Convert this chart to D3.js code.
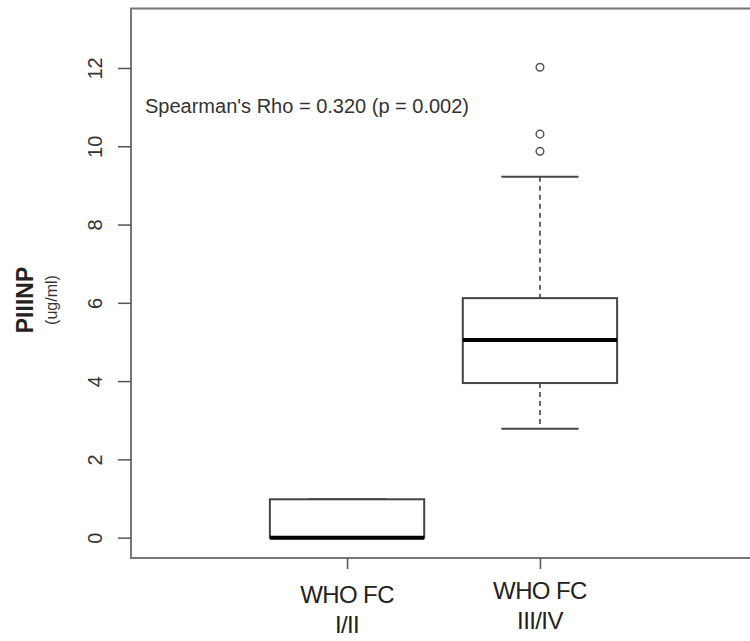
<!DOCTYPE html>
<html>
<head>
<meta charset="utf-8">
<script src="https://cdn.jsdelivr.net/npm/d3@7"></script>
<style>
  html, body { margin: 0; padding: 0; background: #fff; }
  svg { display: block; }
  text { font-family: "Liberation Sans", Arial, Helvetica, sans-serif; }
</style>
</head>
<body>
<svg id="chart" width="750" height="641"></svg>
<script>
// Group labels (two lines each)
const groups = [["WHO FC", "I/II"], ["WHO FC", "III/IV"]];
// Five-number summaries per group: lower whisker, Q1, median, Q3, upper whisker
const lowerWhisker = [0, 2.78];
const q1 = [0, 3.95];
const median = [0, 5.05];
const q3 = [0.98, 6.12];
const upperWhisker = [0.98, 9.22];
// Points beyond the whiskers
const outliers = [[], [9.87, 10.31, 12.02]];
const yTicks = [0, 2, 4, 6, 8, 10, 12];
const annotation = "Spearman's Rho = 0.320 (p = 0.002)";

const svg = d3.select("#chart");
const plotLeft = 131, plotRight = 756, plotTop = 8.5, plotBottom = 558;

const x = d3.scaleLinear().domain([-0.12, 3.12]).range([plotLeft, plotRight]);
const y = d3.scaleLinear().domain([-0.52, 13.52]).range([plotBottom, plotTop]);

const boxHalf = 0.4, capHalf = 0.2;
const data = groups.map((g, i) => ({
  pos: i + 1, label: g,
  lo: lowerWhisker[i], q1: q1[i], med: median[i], q3: q3[i], hi: upperWhisker[i],
  out: outliers[i]
}));

// Plot frame
svg.append("rect")
  .attr("x", plotLeft).attr("y", plotTop)
  .attr("width", plotRight - plotLeft).attr("height", plotBottom - plotTop)
  .attr("fill", "none").attr("stroke", "#777").attr("stroke-width", 2);

// Y axis
const yAxis = svg.append("g")
  .attr("transform", `translate(${plotLeft},0)`)
  .call(d3.axisLeft(y).tickValues(yTicks).tickSize(13).tickFormat(d3.format("d")));
yAxis.select(".domain").remove();
yAxis.selectAll(".tick line").attr("stroke", "#555").attr("stroke-width", 1.5);
yAxis.selectAll(".tick text")
  .attr("transform", "rotate(-90)")
  .attr("x", 0).attr("y", -36).attr("dy", null)
  .attr("text-anchor", "middle")
  .attr("dominant-baseline", "central")
  .attr("fill", "#333")
  .style("font-size", "20px");

// X axis
const xAxis = svg.append("g")
  .attr("transform", `translate(0,${plotBottom})`)
  .call(d3.axisBottom(x).tickValues(data.map(d => d.pos)).tickSize(11).tickFormat(""));
xAxis.select(".domain").remove();
xAxis.selectAll(".tick line").attr("stroke", "#555").attr("stroke-width", 1.5);

// Category labels
const lab = svg.append("g").selectAll("text").data(data).join("text")
  .attr("x", d => x(d.pos))
  .attr("y", (d, i) => i === 0 ? 603 : 599)
  .attr("text-anchor", "middle")
  .attr("fill", "#222")
  .style("font-size", "24px")
  .style("letter-spacing", "-0.6px");
lab.selectAll("tspan").data(d => d.label).join("tspan")
  .attr("x", function () { return d3.select(this.parentNode).attr("x"); })
  .attr("dy", (d, i) => i === 0 ? 0 : 30)
  .text(d => d);

// Y axis title
svg.append("text")
  .attr("transform", `translate(33,300) rotate(-90)`)
  .attr("text-anchor", "middle")
  .attr("fill", "#222")
  .style("font-size", "23px")
  .style("font-weight", "bold")
  .text("PIIINP");
svg.append("text")
  .attr("transform", `translate(57,300) rotate(-90)`)
  .attr("text-anchor", "middle")
  .attr("fill", "#333")
  .style("font-size", "16px")
  .text("(ug/ml)");

// Boxplots
const bp = svg.append("g").selectAll("g").data(data).join("g");

// Dashed whiskers
bp.append("line")
  .attr("x1", d => x(d.pos)).attr("x2", d => x(d.pos))
  .attr("y1", d => y(d.hi)).attr("y2", d => y(d.q3))
  .attr("stroke", "#444").attr("stroke-width", 1.6).attr("stroke-dasharray", "5,4");
bp.append("line")
  .attr("x1", d => x(d.pos)).attr("x2", d => x(d.pos))
  .attr("y1", d => y(d.q1)).attr("y2", d => y(d.lo))
  .attr("stroke", "#444").attr("stroke-width", 1.6).attr("stroke-dasharray", "5,4");

// Whisker caps
["lo", "hi"].forEach(k => {
  bp.append("line")
    .attr("x1", d => x(d.pos - capHalf)).attr("x2", d => x(d.pos + capHalf))
    .attr("y1", d => y(d[k])).attr("y2", d => y(d[k]))
    .attr("stroke", "#444").attr("stroke-width", 2);
});

// Boxes
bp.append("rect")
  .attr("x", d => x(d.pos - boxHalf))
  .attr("width", d => x(d.pos + boxHalf) - x(d.pos - boxHalf))
  .attr("y", d => y(d.q3))
  .attr("height", d => y(d.q1) - y(d.q3))
  .attr("fill", "#fff").attr("stroke", "#444").attr("stroke-width", 2);

// Medians
bp.append("line")
  .attr("x1", d => x(d.pos - boxHalf)).attr("x2", d => x(d.pos + boxHalf))
  .attr("y1", d => y(d.med)).attr("y2", d => y(d.med))
  .attr("stroke", "#000").attr("stroke-width", 4);

// Outliers
bp.selectAll("circle").data(d => d.out.map(v => ({ pos: d.pos, v }))).join("circle")
  .attr("cx", d => x(d.pos)).attr("cy", d => y(d.v)).attr("r", 3.8)
  .attr("fill", "none").attr("stroke", "#555").attr("stroke-width", 1.5);

// Correlation annotation
svg.append("text")
  .attr("x", 145).attr("y", 113)
  .attr("fill", "#333")
  .style("font-size", "20px")
  .text(annotation);
</script>
</body>
</html>
